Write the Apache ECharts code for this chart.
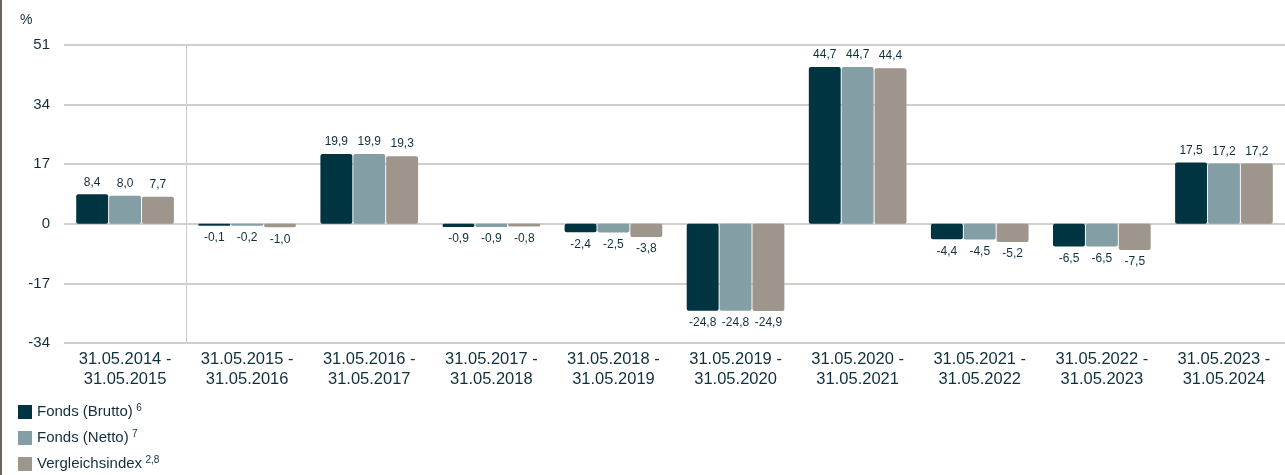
<!DOCTYPE html>
<html lang="de">
<head>
<meta charset="UTF-8">
<title>Wertentwicklung</title>
<script src="https://cdn.jsdelivr.net/npm/echarts@6/dist/echarts.min.js"></script>
<style>
    html,body{margin:0;padding:0;background:#fff;}
    #chart{width:1285px;height:475px;}
</style>
</head>
<body>
<div id="chart"></div>
<script>
    // Zeiträume
    var categories = ['31.05.2014 -\n31.05.2015','31.05.2015 -\n31.05.2016','31.05.2016 -\n31.05.2017',
        '31.05.2017 -\n31.05.2018','31.05.2018 -\n31.05.2019','31.05.2019 -\n31.05.2020',
        '31.05.2020 -\n31.05.2021','31.05.2021 -\n31.05.2022','31.05.2022 -\n31.05.2023',
        '31.05.2023 -\n31.05.2024'];
    var brutto = [8.4, -0.1, 19.9, -0.9, -2.4, -24.8, 44.7, -4.4, -6.5, 17.5];
    var netto  = [8.0, -0.2, 19.9, -0.9, -2.5, -24.8, 44.7, -4.5, -6.5, 17.2];
    var index  = [7.7, -1.0, 19.3, -0.8, -3.8, -24.9, 44.4, -5.2, -7.5, 17.2];
    var seriesNames = ['Fonds (Brutto)', 'Fonds (Netto)', 'Vergleichsindex'];
    var footnotes = ['6', '7', '2,8'];
    var colors = ['#013441', '#849ea5', '#9e958c'];

    var textColor = '#11303d';
    var font = 'Liberation Sans, Arial, sans-serif';

    function fmt(v){ return v.toFixed(1).replace('.', ','); }

    function toData(arr){
        return arr.map(function(v){
            return {value: v, label: {position: v < 0 ? 'bottom' : 'top'}};
        });
    }

    function makeSeries(i, arr){
        return {
            name: seriesNames[i],
            type: 'bar',
            data: toData(arr),
            barGap: '3%',
            barCategoryGap: '20%',
            barMinHeight: 2,
            itemStyle: {color: colors[i], borderRadius: 2},
            label: {
                show: true,
                distance: 6,
                color: textColor,
                fontSize: 12,
                fontFamily: font,
                formatter: function(p){ return fmt(p.value); }
            }
        };
    }

    // eine Legende je Zeile, damit nichts umbricht
    var legends = seriesNames.map(function(name, i){
        return {
            orient: 'vertical',
            left: 18, top: 403 + i * 26,
            padding: 0,
            itemWidth: 14, itemHeight: 14,
            icon: 'rect',
            data: [name],
            selectedMode: false,
            formatter: function(n){
                return '{t|' + n + '} {s|' + footnotes[i] + '}';
            },
            textStyle: {
                color: textColor,
                rich: {
                    t: {fontSize: 15, color: textColor, fontFamily: font},
                    s: {fontSize: 10, color: textColor, fontFamily: font, verticalAlign: 'top', padding: [0, 0, 8, 0]}
                }
            }
        };
    });

    var chart = echarts.init(document.getElementById('chart'));
    chart.setOption({
        animation: false,
        textStyle: {fontFamily: font},
        grid: {left: 64, right: 0, top: 45, bottom: 132},
        legend: legends,
        xAxis: {
            type: 'category',
            data: categories,
            axisLine: {show: false},
            axisTick: {show: false},
            axisLabel: {color: textColor, fontSize: 16.5, lineHeight: 20, margin: 6, interval: 0}
        },
        yAxis: {
            type: 'value',
            min: -34, max: 51, interval: 17,
            axisLine: {show: false},
            axisTick: {show: false},
            axisLabel: {color: textColor, fontSize: 15, margin: 14},
            splitLine: {lineStyle: {color: '#d3cec9', width: 2}}
        },
        series: [makeSeries(0, brutto), makeSeries(1, netto), makeSeries(2, index)]
    });

    // senkrechte Trennlinie zwischen erster und zweiter Kategorie
    var p0 = chart.convertToPixel({xAxisIndex: 0, yAxisIndex: 0}, [0, 51]);
    var p1 = chart.convertToPixel({xAxisIndex: 0, yAxisIndex: 0}, [1, -34]);
    var xm = Math.round((p0[0] + p1[0]) / 2) + 0.5;
    chart.setOption({
        graphic: [
            {type: 'text', left: 20, top: 13, style: {text: '%', fontSize: 14, fill: textColor, fontFamily: font}},
            {type: 'rect', left: 0, top: 0, shape: {width: 2, height: 475}, style: {fill: '#6b625b'}},
            {type: 'line', shape: {x1: xm, y1: p0[1], x2: xm, y2: p1[1]}, style: {stroke: '#cfcac5', lineWidth: 1}, z: -1}
        ]
    });
</script>
</body>
</html>
